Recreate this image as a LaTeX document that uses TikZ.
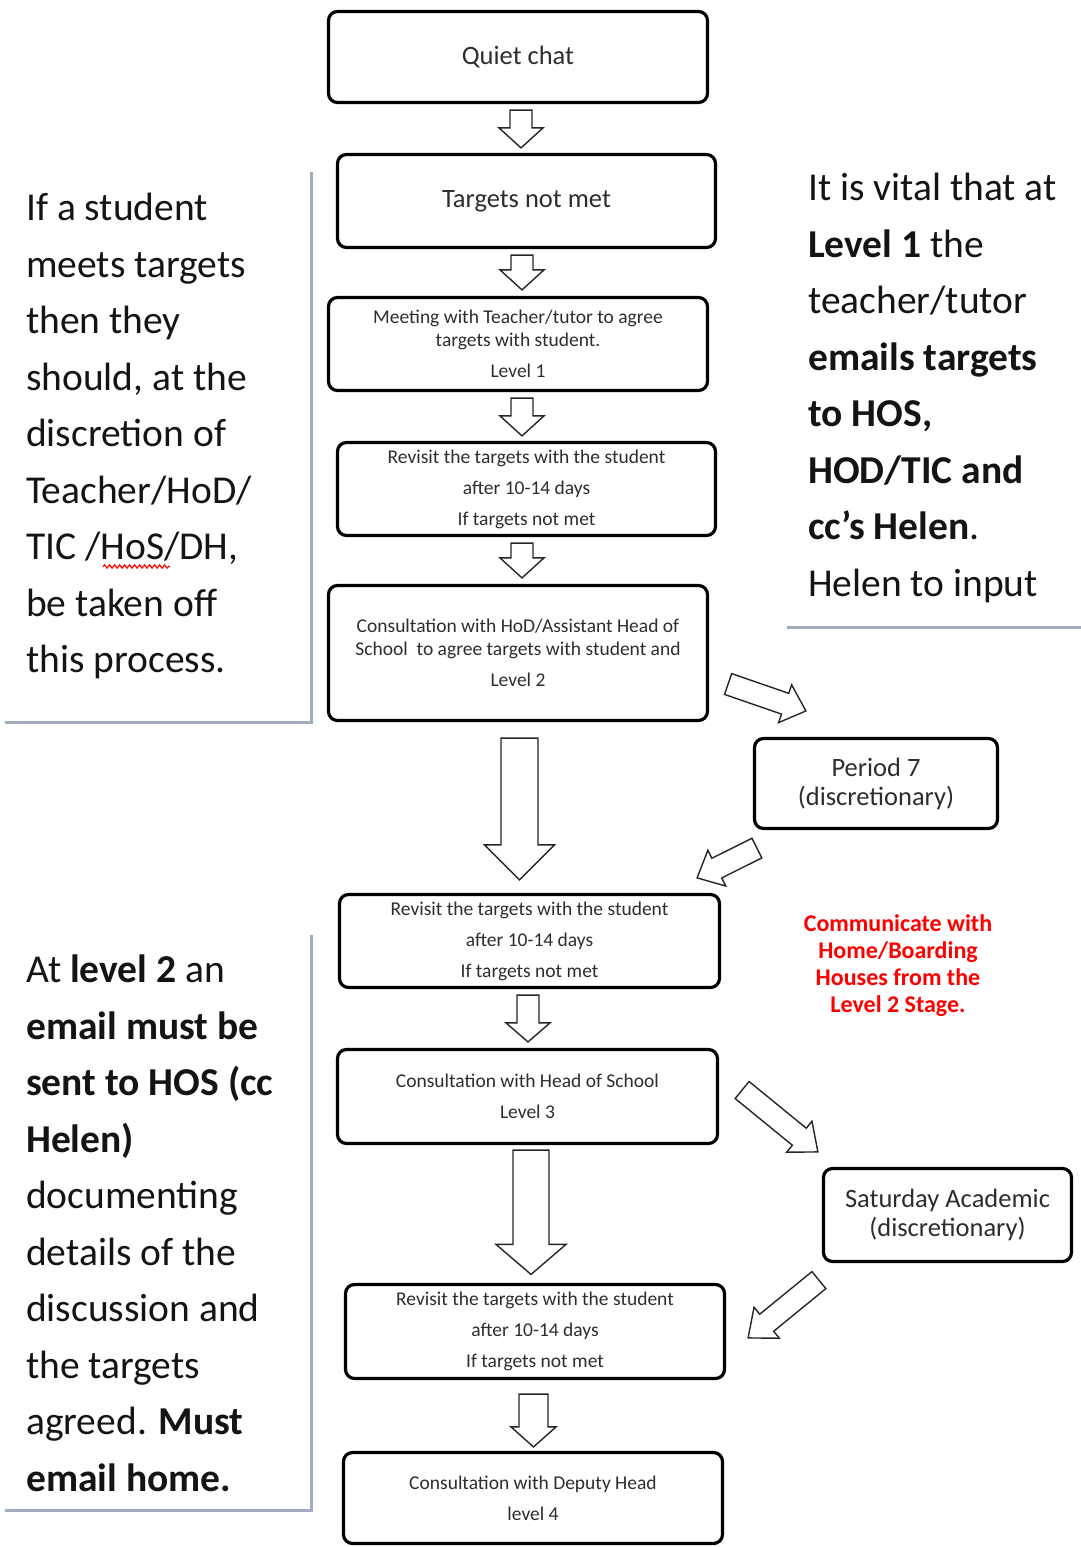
\documentclass[tikz,border=0pt]{standalone}
\usepackage{fontspec}
\setmainfont{Carlito}
\usetikzlibrary{calc, decorations.pathmorphing}

\definecolor{shadowblue}{RGB}{160,172,190}
\definecolor{boxtext}{RGB}{45,45,45}
\definecolor{alertred}{RGB}{255,0,0}

\tikzset{
  flowbox/.style={draw, line width=3.2pt, rounded corners=9pt, align=center, inner sep=0pt, text=boxtext},
  smalltext/.style={font=\fontsize{19.5}{31}\selectfont},
  bigtext/.style={font=\fontsize{26.5}{29}\selectfont},
  blockarrow/.style={draw=black!85, line width=1.4pt, fill=white, line join=miter},
  sidenote/.style={anchor=base west, align=left, inner sep=0pt, text=black!92, font=\fontsize{39.5}{56.5}\selectfont},
  shadowline/.style={draw=shadowblue, line width=3pt},
}

% hollow block arrow: tail, tip, shaft half width, head half width, head length
\newcommand{\fatarrow}[5]{%
  \coordinate (fa-t) at (#1);
  \coordinate (fa-h) at (#2);
  \coordinate (fa-b) at ($(fa-h)!#5!(fa-t)$);
  \draw[blockarrow] ($(fa-t)!#3!90:(fa-h)$) -- ($(fa-b)!#3!90:(fa-h)$)
    -- ($(fa-b)!#4!90:(fa-h)$) -- (fa-h) -- ($(fa-b)!#4!-90:(fa-h)$)
    -- ($(fa-b)!#3!-90:(fa-h)$) -- ($(fa-t)!#3!-90:(fa-h)$) -- cycle;
}

\begin{document}
\begin{tikzpicture}[x=1pt, y=-1pt]
  \useasboundingbox (0,0) rectangle (1081,1547);

  % main column
  \node[flowbox, bigtext, minimum width=379, minimum height=91] (chat) at (518,57) {Quiet chat};
  \node[flowbox, bigtext, minimum width=378, minimum height=93] (tnm) at (526.5,201) {Targets not met};
  \node[flowbox, smalltext, minimum width=379, minimum height=93] (meet) at (518,344)
    {Meeting with Teacher/tutor to agree\\[-8pt] targets with student.\\ Level 1};
  \node[flowbox, smalltext, minimum width=378, minimum height=93] (rev1) at (526.5,489)
    {Revisit the targets with the student\\ after 10-14 days\\ If targets not met};
  \node[flowbox, smalltext, minimum width=379, minimum height=135] (cons2) at (518,653)
    {Consultation with HoD/Assistant Head of\\[-8pt] School\ \ to agree targets with student and\\ Level 2};
  \node[flowbox, smalltext, minimum width=380, minimum height=93] (rev2) at (529.5,941)
    {Revisit the targets with the student\\ after 10-14 days\\ If targets not met};
  \node[flowbox, smalltext, minimum width=380, minimum height=94] (cons3) at (527.5,1096.5)
    {Consultation with Head of School\\ Level 3};
  \node[flowbox, smalltext, minimum width=379, minimum height=94] (rev3) at (535,1331.5)
    {Revisit the targets with the student\\ after 10-14 days\\ If targets not met};
  \node[flowbox, smalltext, minimum width=379, minimum height=91] (dep) at (533,1498)
    {Consultation with Deputy Head\\ level 4};

  % side boxes
  \node[flowbox, bigtext, minimum width=243, minimum height=90] (p7) at (876,783.5)
    {Period 7\\ (discretionary)};
  \node[flowbox, bigtext, minimum width=248, minimum height=93] (sat) at (947.5,1215)
    {Saturday Academic\\ (discretionary)};

  % arrows down the column
  \fatarrow{$(chat.south -| tnm.north)+(-5.5,6)$}{$(tnm.north)+(-5.5,-5)$}{11pt}{22pt}{20pt}
  \fatarrow{$(tnm.south)+(-4.5,6)$}{$(meet.north -| tnm.south)+(-4.5,-6)$}{11pt}{22pt}{20pt}
  \fatarrow{$(meet.south)+(4,6)$}{$(rev1.north -| meet.south)+(4,-5)$}{11pt}{22pt}{20pt}
  \fatarrow{$(rev1.south)+(-4.5,6)$}{$(cons2.north -| rev1.south)+(-4.5,-6)$}{11pt}{22pt}{20pt}
  \fatarrow{$(cons2.south)+(1.5,16)$}{$(rev2.north -| cons2.south)+(1.5,-13)$}{18.5pt}{35pt}{35pt}
  \fatarrow{$(rev2.south)+(-1.5,6)$}{$(cons3.north -| rev2.south)+(-1.5,-6)$}{11pt}{22pt}{19pt}
  \fatarrow{$(cons3.south)+(3.5,5)$}{$(rev3.north -| cons3.south)+(3.5,-8.5)$}{18pt}{35pt}{30pt}
  \fatarrow{$(rev3.south)+(-1.5,14)$}{$(dep.north -| rev3.south)+(-1.5,-4)$}{14.5pt}{22.5pt}{20pt}

  % arrows out to the side boxes and back
  \fatarrow{$(cons2.east)+(19,31)$}{$(p7.north west)+(53,-26)$}{11pt}{20pt}{22pt}
  \fatarrow{$(p7.south west)+(4,18)$}{$(rev2.north east)+(-24,-15)$}{11pt}{20pt}{22pt}
  \fatarrow{$(cons3.east)+(23,-6.5)$}{$(sat.north west)+(-4,-15)$}{11pt}{20pt}{24pt}
  \fatarrow{$(sat.south west)+(-3,17)$}{$(rev3.north east)+(22,55)$}{11pt}{20pt}{24pt}

  % notes (base anchor sits on the last line)
  \node[sidenote] (meetsnote) at (26,672.5) {If a student\\ meets targets\\ then they\\ should, at the\\ discretion of\\ Teacher/HoD/\\ TIC /HoS/DH,\\ be taken off\\ this process.};
  \draw[red, line width=1.2pt, decorate, decoration={snake, amplitude=1.6pt, segment length=5pt}] (103,566.5) -- (170,566.5);
  \draw[shadowline] (5,722) -- (311,722) -- (311,172);

  \node[sidenote] (vitalnote) at (808,596) {It is vital that at\\ \textbf{Level 1} the\\ teacher/tutor\\ \textbf{emails targets}\\ \textbf{to HOS,}\\ \textbf{HOD/TIC and}\\ \textbf{cc’s Helen}.\\ Helen to input};
  \draw[shadowline] (787,627) -- (1081,627);

  \node[font=\bfseries\fontsize{24}{27}\selectfont, text=alertred, align=center] (housenote) at (898,966)
    {Communicate with\\ Home/Boarding\\ Houses from the\\ Level 2 Stage.};

  \node[sidenote] (levelnote) at (26,1491) {At \textbf{level 2} an\\ \textbf{email must be}\\ \textbf{sent to HOS (cc}\\ \textbf{Helen)}\\ documenting\\ details of the\\ discussion and\\ the targets\\ agreed. \textbf{Must}\\ \textbf{email home.}};
  \draw[shadowline] (5,1510) -- (311,1510) -- (311,935);
\end{tikzpicture}
\end{document}
